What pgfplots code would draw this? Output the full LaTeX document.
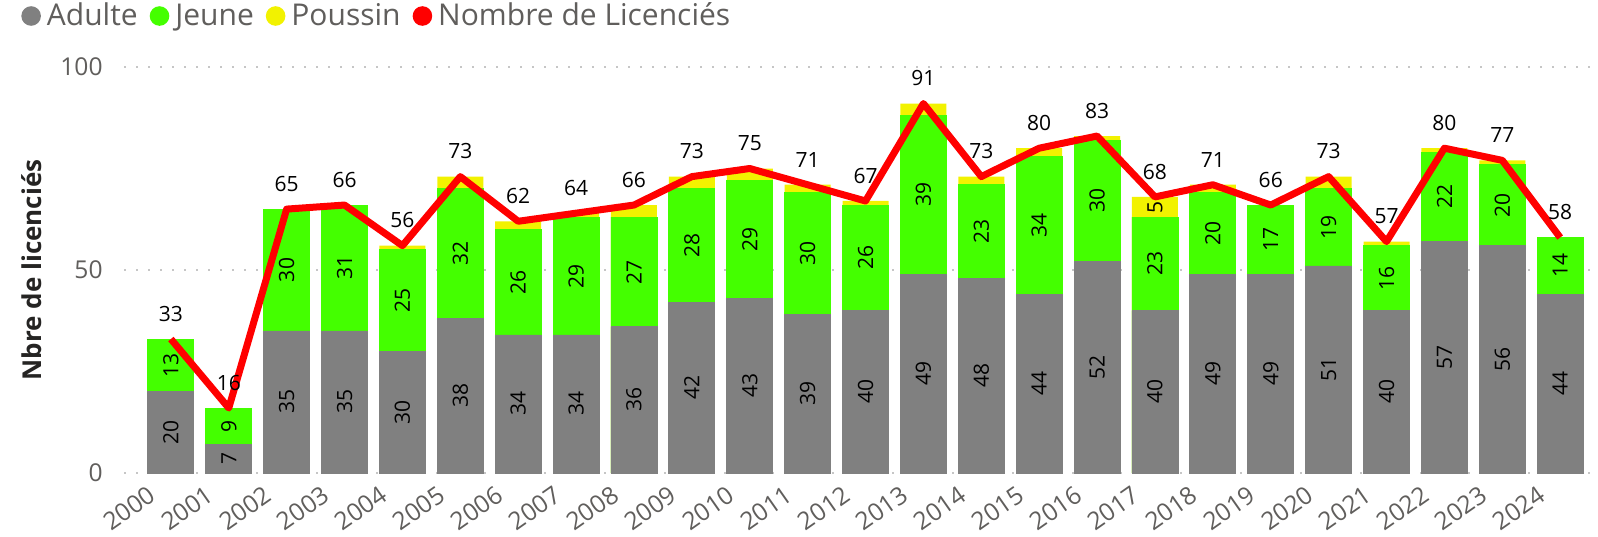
\documentclass[border=0pt]{standalone}
\usepackage{fontspec}
\setmainfont{Open Sans}
\usepackage{pgfplots}
\usepackage{pgfplotstable}
\pgfplotsset{compat=1.18}

\definecolor{cadulte}{HTML}{808080}
\definecolor{cjeune}{HTML}{44FF00}
\definecolor{cpoussin}{HTML}{F2F200}
\definecolor{cline}{HTML}{FF0000}
\definecolor{tickgray}{HTML}{605E5C}
\definecolor{labeldark}{HTML}{252423}

% licences per season
\pgfplotstableread{
x year adulte jeune poussin total
0  2000 20 13 0 33
1  2001 7  9  0 16
2  2002 35 30 0 65
3  2003 35 31 0 66
4  2004 30 25 1 56
5  2005 38 32 3 73
6  2006 34 26 2 62
7  2007 34 29 1 64
8  2008 36 27 3 66
9  2009 42 28 3 73
10 2010 43 29 3 75
11 2011 39 30 2 71
12 2012 40 26 1 67
13 2013 49 39 3 91
14 2014 48 23 2 73
15 2015 44 34 2 80
16 2016 52 30 1 83
17 2017 40 23 5 68
18 2018 49 20 2 71
19 2019 49 17 0 66
20 2020 51 19 3 73
21 2021 40 16 1 57
22 2022 57 22 1 80
23 2023 56 20 1 77
24 2024 44 14 0 58
}\data
\pgfplotstablecreatecol[expr={\thisrow{adulte}+\thisrow{jeune}}]{aj}\data
\pgfplotstablecreatecol[expr={\thisrow{adulte}/2}]{amid}\data
\pgfplotstablecreatecol[expr={\thisrow{adulte}+\thisrow{jeune}/2}]{jmid}\data

\newcommand\datafont{\fontsize{10.5}{10.5}\selectfont}

\begin{document}
\begin{tikzpicture}
\path[use as bounding box] (-62pt,-31.5pt) rectangle (737pt,236.5pt);
\begin{axis}[
    at={(0,0)}, anchor=south west,
    scale only axis,
    width=734pt, height=203pt,
    xmin=-0.81, xmax=24.55,
    ymin=0, ymax=100,
    clip=false,
    axis line style={draw=none},
    major tick length=0pt,
    ytick={0,50,100},
    xtick={0,...,24},
    xticklabels={2000,2001,2002,2003,2004,2005,2006,2007,2008,2009,2010,2011,2012,2013,2014,2015,2016,2017,2018,2019,2020,2021,2022,2023,2024},
    ymajorgrids,
    grid style={draw=gray!45, line width=1pt, dash pattern=on 1pt off 5pt},
    /pgf/number format/assume math mode=true,
    tick label style={font=\fontsize{12.3}{12.3}\selectfont, text=tickgray},
    xticklabel style={xshift=-11.8pt, yshift=-5.5pt, rotate=35, anchor=north east, inner sep=0pt},
    yticklabel style={anchor=east, inner sep=0pt, xshift=-10.5pt},
    ylabel={Nbre de licenciés},
    ylabel style={font=\bfseries\fontsize{13}{13}\selectfont, text=labeldark,
        at={(axis description cs:-0.0627,0.5)}, anchor=center},
    legend columns=4,
    legend style={at={(axis description cs:-0.0702,1.1256)}, anchor=west,
        draw=none, fill=none, inner sep=0pt,
        font=\fontsize{15}{18}\selectfont, text=tickgray,
        nodes={inner sep=0.5pt},
        /tikz/every odd column/.append style={column sep=2.5pt},
        /tikz/every even column/.append style={column sep=5.5pt}},
    legend image code/.code={\fill[#1, draw=none] (4.9pt,0pt) circle (4.9pt);},
]
% stacked bars drawn as overlapping cumulative bars
\addplot[ybar, bar width=0.795, bar shift=0pt, fill=cpoussin, draw=none, forget plot]
    table[x=x, y=total] {\data};
\addplot[ybar, bar width=0.795, bar shift=0pt, fill=cjeune, draw=cjeune, line width=0.4pt, forget plot]
    table[x=x, y=aj] {\data};
\addplot[ybar, bar width=0.795, bar shift=0pt, fill=cadulte, draw=cadulte, line width=0.4pt, forget plot]
    table[x=x, y=adulte] {\data};

% segment labels
\addplot[draw=none, mark=none, forget plot, nodes near coords, point meta=explicit,
    nodes near coords style={font=\datafont, text=black, rotate=90, anchor=center, inner sep=0pt}]
    table[x=x, y=amid, meta=adulte] {\data};
\addplot[draw=none, mark=none, forget plot, nodes near coords, point meta=explicit,
    nodes near coords style={font=\datafont, text=black, rotate=90, anchor=center, inner sep=0pt}]
    table[x=x, y=jmid, meta=jeune] {\data};
\addplot[draw=none, mark=none, forget plot, nodes near coords, point meta=explicit,
    nodes near coords style={font=\datafont, text=black, rotate=90, anchor=center, inner sep=0pt}]
    coordinates {(17,65.5) [5]};

% total line
\addplot[cline, line width=3.5pt, line join=round, mark=none, forget plot,
    nodes near coords, point meta=explicit,
    nodes near coords style={font=\datafont, text=black, anchor=south, inner sep=0pt, yshift=7pt}]
    table[x=x, y=total, meta=total] {\data};

\addlegendimage{fill=cadulte}
\addlegendentry{Adulte}
\addlegendimage{fill=cjeune}
\addlegendentry{Jeune}
\addlegendimage{fill=cpoussin}
\addlegendentry{Poussin}
\addlegendimage{fill=cline}
\addlegendentry{Nombre de Licenciés}
\end{axis}
\end{tikzpicture}
\end{document}
